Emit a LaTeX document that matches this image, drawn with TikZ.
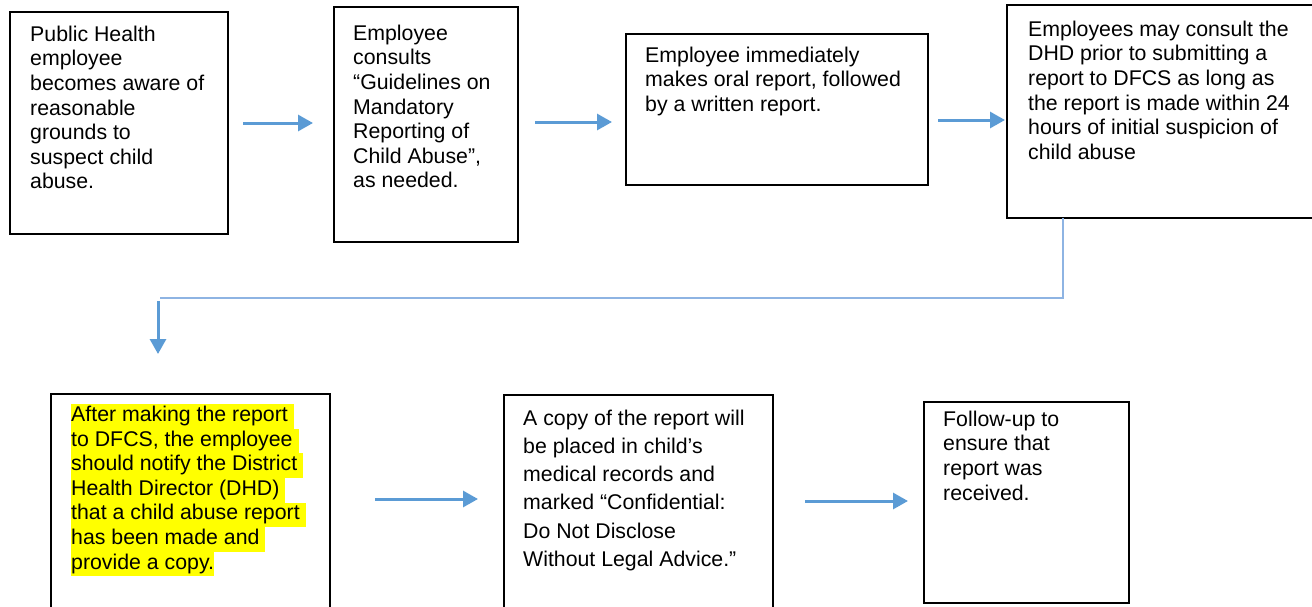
\documentclass[tikz,border=0pt]{standalone}
\usepackage{fontspec}
\setmainfont{Liberation Sans}
\usetikzlibrary{arrows.meta}
\definecolor{arrowblue}{HTML}{5B9BD5}
\definecolor{lineblue}{HTML}{8EB4E3}
\definecolor{hlyellow}{HTML}{FFFF00}
\newcommand{\topstrut}{\rule{0pt}{17pt}}
\newcommand{\hlline}[1]{{\setlength{\fboxsep}{0pt}\colorbox{hlyellow}{\strut #1}}}
\begin{document}
\begin{tikzpicture}[x=1pt,y=-1pt,
  box/.style={draw=black,line width=2pt,anchor=north west,inner sep=0pt},
  txt/.style={anchor=north west,inner sep=0pt,align=left,font=\fontsize{21.3}{24.6}\selectfont},
  flow/.style={draw=arrowblue,line width=3pt,-{Triangle[length=15pt,width=16pt]}},
  elbow/.style={draw=lineblue,line width=2.4pt}]
\clip (0,0) rectangle (1312,606);
% boxes
\node[box,minimum width=218pt,minimum height=222pt] (b1) at (9,11) {};
\node[box,minimum width=184pt,minimum height=235pt] (b2) at (333,6) {};
\node[box,minimum width=302pt,minimum height=151pt] (b3) at (625,33) {};
\node[box,minimum width=320pt,minimum height=213pt] (b4) at (1006,4) {};
\node[box,minimum width=279pt,minimum height=240pt] (b5) at (50,393) {};
\node[box,minimum width=269pt,minimum height=240pt] (b6) at (503,394) {};
\node[box,minimum width=205pt,minimum height=201pt] (b7) at (923,401) {};
% texts
\node[txt] (t1) at (30,24) {\topstrut Public Health\\employee\\becomes aware of\\reasonable\\grounds to\\suspect child\\abuse.};
\node[txt] (t2) at (353,23) {\topstrut Employee\\consults\\“Guidelines on\\Mandatory\\Reporting of\\Child Abuse”,\\as needed.};
\node[txt] (t3) at (645,45) {\topstrut Employee immediately\\makes oral report, followed\\by a written report.};
\node[txt] (t4) at (1028,19) {\topstrut Employees may consult the\\DHD prior to submitting a\\report to DFCS as long as\\the report is made within 24\\hours of initial suspicion of\\child abuse};
\node[txt] (t5) at (71,404) {\hlline{After making the report\ }\\\hlline{to DFCS, the employee\ }\\\hlline{should notify the District\ }\\\hlline{Health Director (DHD)\ }\\\hlline{that a child abuse report\ }\\\hlline{has been made and\ }\\\hlline{provide a copy.}};
\node[txt,font=\fontsize{21.3}{28.2}\selectfont] (t6) at (523,408) {\topstrut A copy of the report will\\be placed in child’s\\medical records and\\marked “Confidential:\\Do Not Disclose\\Without Legal Advice.”};
\node[txt] (t7) at (943,409) {\topstrut Follow-up to\\ensure that\\report was\\received.};
% connector coordinates
\coordinate (a1s) at (243,123); \coordinate (a1e) at (313,123);
\coordinate (a2s) at (535,122); \coordinate (a2e) at (612,122);
\coordinate (a3s) at (938,120); \coordinate (a3e) at (1005,120);
\coordinate (e1) at (1063,218); \coordinate (e2) at (160,298);
\coordinate (d1) at (158,301); \coordinate (d2) at (158,354);
\coordinate (a4s) at (375,499); \coordinate (a4e) at (478,499);
\coordinate (a5s) at (805,501); \coordinate (a5e) at (908,501);
% connectors
\draw[flow] (a1s) -- (a1e);
\draw[flow] (a2s) -- (a2e);
\draw[flow] (a3s) -- (a3e);
\draw[elbow] (e1) |- (e2);
\draw[flow] (d1) -- (d2);
\draw[flow] (a4s) -- (a4e);
\draw[flow] (a5s) -- (a5e);
\end{tikzpicture}
\end{document}
